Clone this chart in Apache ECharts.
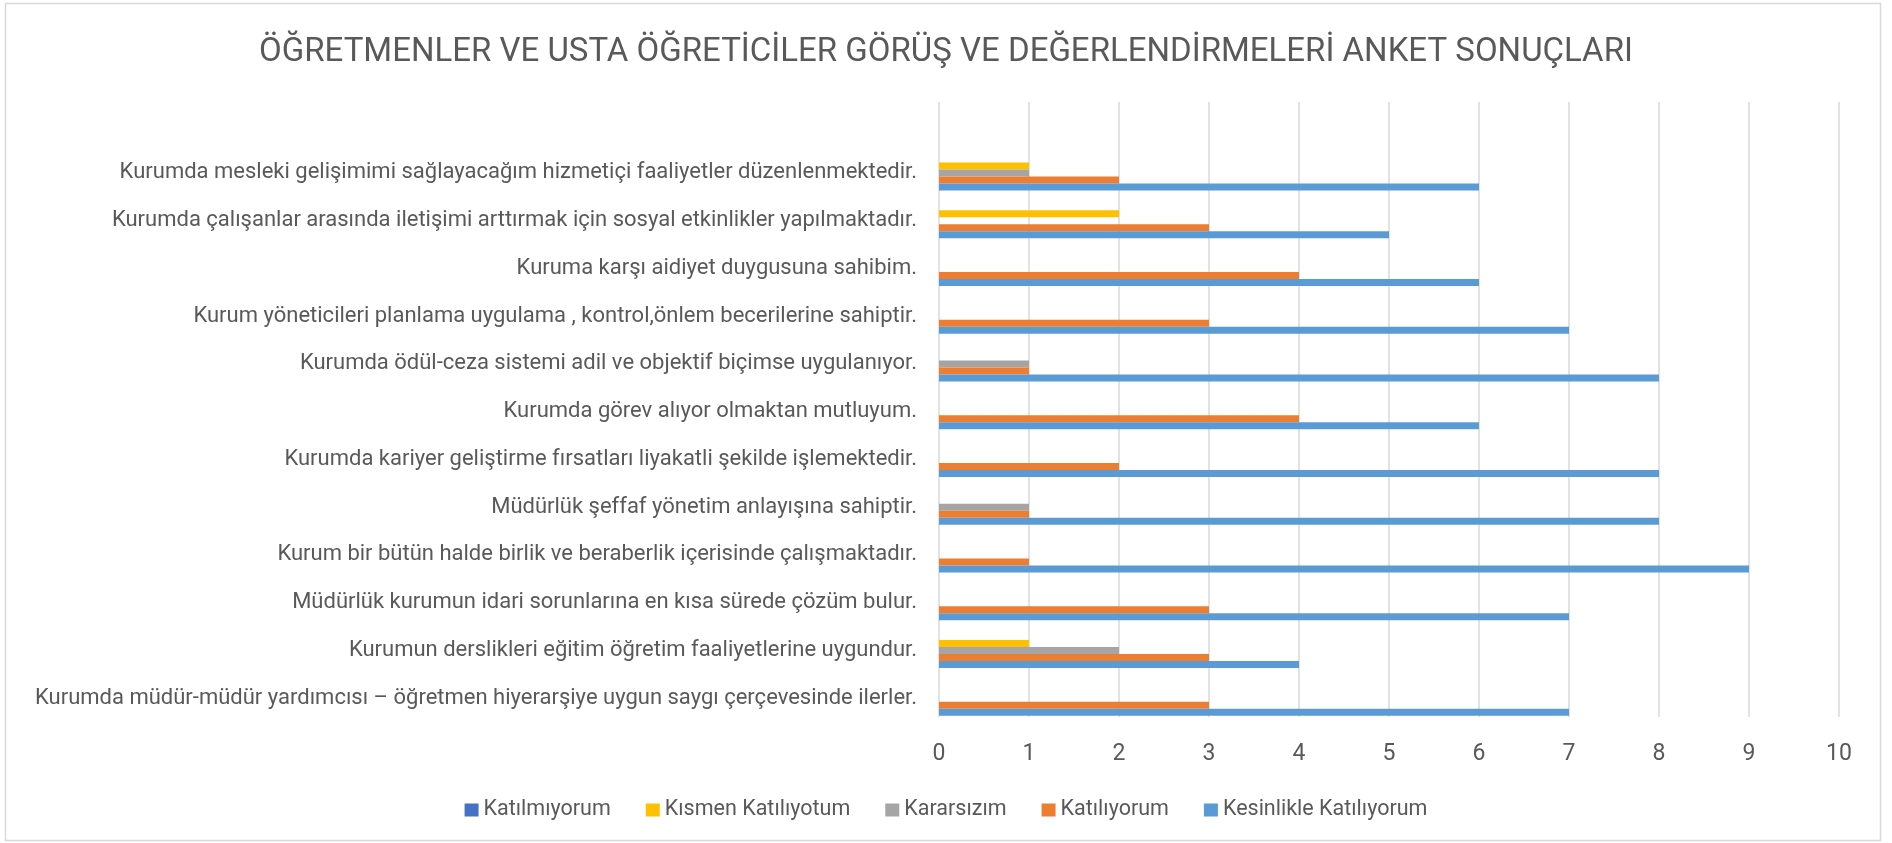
<!DOCTYPE html>
<html>
<head>
<meta charset="utf-8">
<script src="https://cdn.jsdelivr.net/npm/echarts@6/dist/echarts.min.js"></script>
<style>
  html, body { margin: 0; padding: 0; background: #fff; }
  #chart { width: 1892px; height: 843px; }
</style>
</head>
<body>
<div id="chart"></div>
<script>
// categories from bottom to top, as the y axis counts them
const categories = [
  'Kurumda müdür-müdür yardımcısı – öğretmen hiyerarşiye uygun saygı çerçevesinde ilerler.',
  'Kurumun derslikleri eğitim öğretim faaliyetlerine uygundur.',
  'Müdürlük kurumun idari sorunlarına en kısa sürede çözüm bulur.',
  'Kurum bir bütün halde birlik ve beraberlik içerisinde çalışmaktadır.',
  'Müdürlük şeffaf yönetim anlayışına sahiptir.',
  'Kurumda kariyer geliştirme fırsatları liyakatli şekilde işlemektedir.',
  'Kurumda görev alıyor olmaktan mutluyum.',
  'Kurumda ödül-ceza sistemi adil ve objektif biçimse uygulanıyor.',
  'Kurum yöneticileri planlama uygulama , kontrol,önlem becerilerine sahiptir.',
  'Kuruma karşı aidiyet duygusuna sahibim.',
  'Kurumda çalışanlar arasında iletişimi arttırmak için sosyal etkinlikler yapılmaktadır.',
  'Kurumda mesleki gelişimimi sağlayacağım hizmetiçi faaliyetler düzenlenmektedir.'
]

const katilmiyorum = [0, 0, 0, 0, 0, 0, 0, 0, 0, 0, 0, 0]
const kismen = [0, 1, 0, 0, 0, 0, 0, 0, 0, 0, 2, 1]
const kararsizim = [0, 2, 0, 0, 1, 0, 0, 1, 0, 0, 0, 1]
const katiliyorum = [3, 3, 3, 1, 1, 2, 4, 1, 3, 4, 3, 2]
const kesinlikle = [7, 4, 7, 9, 8, 8, 6, 8, 7, 6, 5, 6]

const xTicks = [0, 10, 1]  // min, max, interval

const font = 'Roboto'
const textColor = '#595959'

function barSeries(name, data, color) {
  return {
    name: name,
    type: 'bar',
    data: data,
    xAxisIndex: 0,
    yAxisIndex: 0,
    barWidth: 7,
    barGap: '0%',
    itemStyle: { color: color },
    silent: true
  }
}

let chart = echarts.init(document.getElementById('chart'))
chart.setOption({
  animation: false,
  backgroundColor: '#fff',
  textStyle: { fontFamily: font },
  title: {
    text: 'ÖĞRETMENLER VE USTA ÖĞRETİCİLER GÖRÜŞ VE DEĞERLENDİRMELERİ ANKET SONUÇLARI',
    left: 'center',
    top: 31,
    textStyle: { fontFamily: font, fontSize: 33, fontWeight: 'normal', color: textColor }
  },
  graphic: [{
    type: 'rect',
    shape: { x: 5.5, y: 3.5, width: 1875, height: 837 },
    style: { fill: 'none', stroke: '#d9d9d9', lineWidth: 1.5 },
    silent: true
  }],
  legend: {
    left: 'center',
    top: 794,
    itemWidth: 14,
    itemHeight: 13,
    itemGap: 35,
    icon: 'rect',
    textStyle: { fontFamily: font, fontSize: 21.5, color: textColor }
  },
  grid: [
    { left: 939, right: 53, top: 149, bottom: 121 },
    { left: 939, right: 53, top: 102, bottom: 126 }
  ],
  xAxis: [
    {
      gridIndex: 0, type: 'value', min: xTicks[0], max: xTicks[1], interval: xTicks[2],
      show: false
    },
    {
      gridIndex: 1, type: 'value', min: xTicks[0], max: xTicks[1], interval: xTicks[2],
      axisLine: { show: false },
      axisTick: { show: false },
      splitLine: { show: true, lineStyle: { color: '#d9d9d9', width: 1.5 } },
      axisLabel: { margin: 26, fontFamily: font, fontSize: 23, color: textColor }
    }
  ],
  yAxis: [
    {
      gridIndex: 0, type: 'category', data: categories,
      axisLine: { show: false },
      axisTick: { show: false },
      splitLine: { show: false },
      axisLabel: { margin: 22, fontFamily: font, fontSize: 22, color: textColor }
    },
    {
      gridIndex: 1, type: 'value', show: false, splitLine: { show: false }
    }
  ],
  series: [
    barSeries('Katılmıyorum', katilmiyorum, '#4472c4'),
    barSeries('Kısmen Katılıyotum', kismen, '#ffc000'),
    barSeries('Kararsızım', kararsizim, '#a5a5a5'),
    barSeries('Katılıyorum', katiliyorum, '#ed7d31'),
    barSeries('Kesinlikle Katılıyorum', kesinlikle, '#5b9bd5')
  ]
})

window.addEventListener('resize', () => {
  chart.resize()
})
</script>
</body>
</html>
